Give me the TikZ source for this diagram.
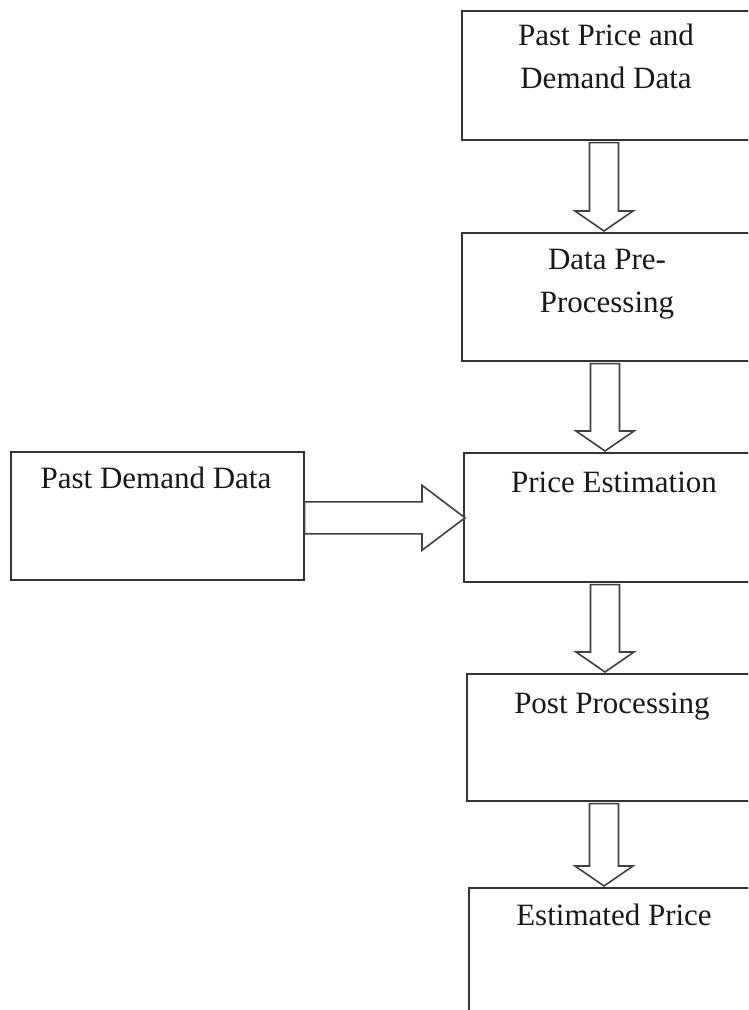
\documentclass[tikz,border=0pt]{standalone}
\usepackage{fontspec}
\setmainfont{Liberation Serif}
\usetikzlibrary{calc}
\tikzset{
  box/.style={draw=black!80, line width=1.6pt, rectangle, anchor=north west, inner sep=0pt},
  txt/.style={font=\fontsize{31}{43}\selectfont, align=center, anchor=base, text=black!90},
  hollow/.style={draw=black!75, line width=1.6pt, fill=white, line join=miter}
}
\newcommand\flowdown[3]{%
  \draw[hollow] let \p1=(#1.south), \p2=(#2.north) in
    (#3pt-14.5pt,\y1-2pt) -- (#3pt+14.5pt,\y1-2pt) -- (#3pt+14.5pt,\y2+21pt)
    -- (#3pt+29pt,\y2+21pt) -- (#3pt,\y2+1pt) -- (#3pt-29pt,\y2+21pt)
    -- (#3pt-14.5pt,\y2+21pt) -- cycle;}
\begin{document}
\begin{tikzpicture}[x=1pt,y=-1pt]
\useasboundingbox (0,0) rectangle (748,1010);
\clip (0,0) rectangle (748,1010);
\node[box, minimum width=300, minimum height=129] (data) at (461,10) {};
\node[box, minimum width=300, minimum height=128] (prep) at (461,232) {};
\node[box, minimum width=298, minimum height=129] (est) at (463,452) {};
\node[box, minimum width=293, minimum height=128] (hist) at (10,451) {};
\node[box, minimum width=295, minimum height=127] (post) at (466,673) {};
\node[box, minimum width=293, minimum height=160] (out) at (468,887) {};
\node[txt] (datat) at (606,88) {Past Price and\\Demand Data};
\node[txt] (prept) at (607,312) {Data Pre-\\Processing};
\node[txt] (estt) at (614,492) {Price Estimation};
\node[txt] (histt) at (156,488) {Past Demand Data};
\node[txt] (postt) at (612,713) {Post Processing};
\node[txt] (outt) at (614,925) {Estimated Price};
\flowdown{data}{prep}{604}
\flowdown{prep}{est}{605}
\flowdown{est}{post}{605}
\flowdown{post}{out}{604}
\draw[hollow] let \p1=(hist.east), \p2=(est.west) in
  (\x1,\y1-2pt-16pt) -- (\x2-41pt,\y1-2pt-16pt) -- (\x2-41pt,\y1-2pt-32.5pt)
  -- (\x2+2pt,\y1-2pt) -- (\x2-41pt,\y1-2pt+32.5pt) -- (\x2-41pt,\y1-2pt+16pt)
  -- (\x1,\y1-2pt+16pt) -- cycle;
\end{tikzpicture}
\end{document}
